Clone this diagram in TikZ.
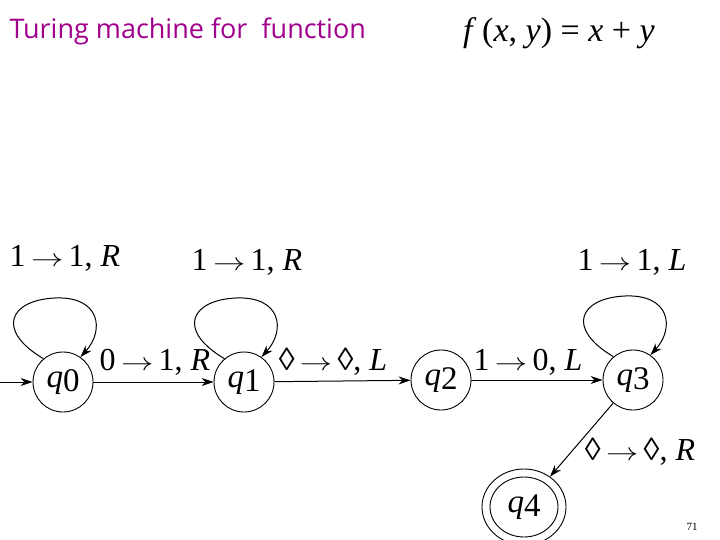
\documentclass[tikz,border=0pt]{standalone}
\usepackage{fontspec}
\setmainfont{Liberation Serif}
\newfontfamily\titlefont{Open Sans}
\usetikzlibrary{shapes.geometric,arrows.meta}
\definecolor{ttl}{RGB}{160,0,140}
\newcommand{\st}[1]{\textit{q}\raisebox{-0.3ex}{#1}}
\newcommand{\ar}{\,\scalebox{1.3}[1]{$\rightarrow$}\,}
\begin{document}
\begin{tikzpicture}[x=1pt,y=-1pt,
  stt/.style={draw,ellipse,minimum width=60pt,minimum height=60pt,inner sep=0pt,line width=0.9pt,font=\fontsize{33}{33}\selectfont},
  lab/.style={font=\fontsize{32}{32}\selectfont,inner sep=0pt},
  edg/.style={-{Stealth[length=12pt,width=8pt]},line width=1pt}]
\useasboundingbox (0,0) rectangle (720,540);
\node[anchor=west,text=ttl,font=\titlefont\fontsize{27}{27}\selectfont] (t) at (6,31) {Turing machine for\ \ function};
\node[lab,anchor=west,font=\fontsize{34}{34}\selectfont] (f) at (463,33) {\textit{f}\,(\textit{x}, \textit{y}) = \textit{x} + \textit{y}};
\node[stt] (q0) at (63,382) {\st{0}};
\node[stt] (q1) at (244,382) {\st{1}};
\node[stt] (q2) at (441,380) {\st{2}};
\node[stt] (q3) at (633,380) {\st{3}};
\node[stt,minimum width=68pt,minimum height=60pt] (q4) at (524,507) {\st{4}};
\node[draw,ellipse,minimum width=84pt,minimum height=76pt,line width=0.9pt] (q4o) at (524,507) {};
\coordinate (in) at (0,382);
\draw[edg] (in) -- (q0);
\draw[edg] (q0) -- (q1);
\draw[edg] (q1) -- (q2);
\draw[edg] (q2) -- (q3);
\draw[edg] (q3) -- (q4o);
\draw[edg] (q0.130) .. controls (-5,330) and (10,300) .. (55,298) .. controls (100,296) and (105,330) .. (q0.55);
\draw[edg] (q1.130) .. controls (176,330) and (191,300) .. (236,298) .. controls (281,296) and (286,330) .. (q1.55);
\draw[edg] (q3.130) .. controls (565,328) and (580,298) .. (625,296) .. controls (670,294) and (675,328) .. (q3.55);
\node[lab] (l0) at (65,258) {1\ar 1, \textit{R}};
\node[lab] (l1) at (247,262) {1\ar 1, \textit{R}};
\node[lab] (l3) at (632,262) {1\ar 1, \textit{L}};
\node[lab] (e01) at (155,362) {0\ar 1, \textit{R}};
\node[lab] (e12) at (333,362) {◊\ar ◊, \textit{L}};
\node[lab] (e23) at (528,362) {1\ar 0, \textit{L}};
\node[lab] (e34) at (640,452) {◊\ar ◊, \textit{R}};
\node[font=\fontsize{11}{11}\selectfont] (pg) at (692,527) {71};
\end{tikzpicture}
\end{document}
